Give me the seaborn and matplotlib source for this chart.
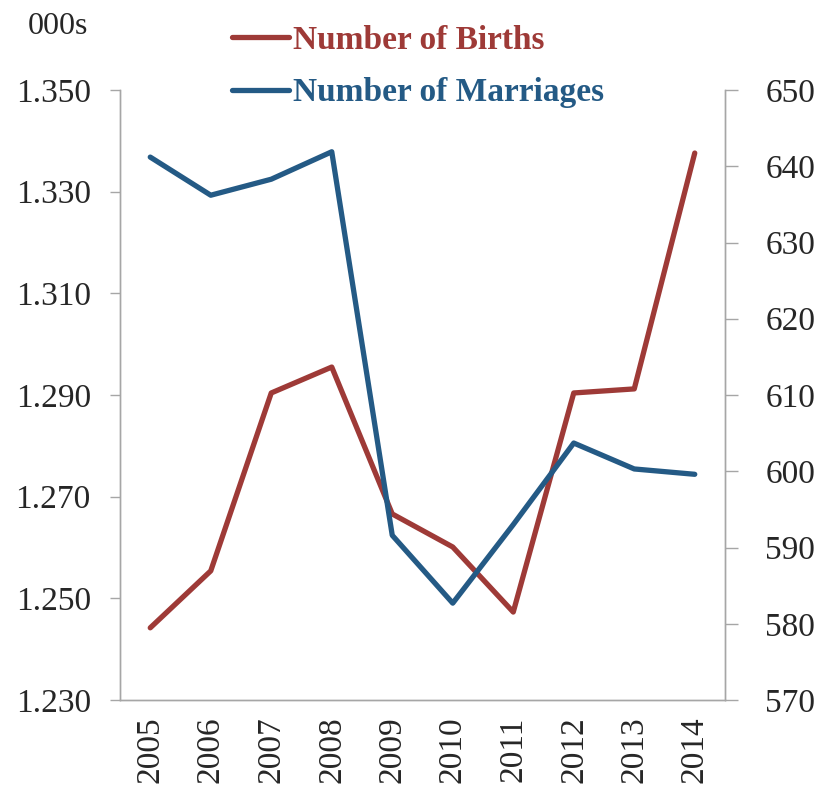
import matplotlib
matplotlib.use("Agg")
import matplotlib.pyplot as plt
import seaborn as sns
import pandas as pd
import numpy as np
from matplotlib.lines import Line2D

# data
years = ["2005", "2006", "2007", "2008", "2009", "2010", "2011", "2012", "2013", "2014"]
births = [1.2442, 1.2554, 1.2904, 1.2955, 1.2666, 1.2601, 1.2473, 1.2904, 1.2912, 1.3376]
marriages = [641.2, 636.2, 638.3, 641.9, 591.6, 582.7, 593.0, 603.7, 600.3, 599.6]

left_ticks = [1.230, 1.250, 1.270, 1.290, 1.310, 1.330, 1.350]
right_ticks = [570, 580, 590, 600, 610, 620, 630, 640, 650]

RED = "#9e3a37"
BLUE = "#245a85"
GREY = "#a6a6a6"

sns.set_style("white")
plt.rcParams["font.family"] = ["Liberation Serif", "DejaVu Serif"]

df = pd.DataFrame({"pos": np.arange(len(years)), "births": births, "marriages": marriages})

W, H = 818, 790
fig = plt.figure(figsize=(W / 100, H / 100), dpi=100)
ax = fig.add_axes([120 / W, 1 - 700 / H, (725 - 120) / W, (700 - 90) / H])
ax2 = ax.twinx()

sns.lineplot(data=df, x="pos", y="births", ax=ax, color=RED, linewidth=3.8)
sns.lineplot(data=df, x="pos", y="marriages", ax=ax2, color=BLUE, linewidth=3.8)

ax.set_xlim(-0.5, len(years) - 0.5)
ax.set_ylim(1.230, 1.350)
ax2.set_ylim(570, 650)

ax.set_yticks(left_ticks)
ax.set_yticklabels([f"{v:.3f}" for v in left_ticks], fontsize=24)
ax2.set_yticks(right_ticks)
ax2.set_yticklabels([str(v) for v in right_ticks], fontsize=24)

# category boundaries as tick marks, labels in the middle
ax.set_xticks(np.arange(-0.5, len(years)), labels=[""] * (len(years) + 1))
ax.set_xticks(np.arange(len(years)), labels=years, minor=True)
ax.tick_params(axis="x", which="minor", length=0, labelsize=24, labelrotation=90, pad=12)
ax.tick_params(axis="x", which="major", length=8, width=1, color=GREY, direction="out")
ax.tick_params(axis="y", length=7, width=1, color=GREY, direction="out", pad=14)
ax2.tick_params(axis="y", length=9, width=1, color=GREY, direction="out", pad=20)

for a in (ax, ax2):
    a.set_xlabel("")
    a.set_ylabel("")
    a.grid(False)
    a.spines["top"].set_visible(False)
    for s in ("left", "right", "bottom"):
        a.spines[s].set_color(GREY)
        a.spines[s].set_linewidth(1)

fig.text(28 / W, 1 - 26 / H, "000s", fontsize=23, va="center", ha="left")

handles = [Line2D([0], [0], color=RED, lw=3.8), Line2D([0], [0], color=BLUE, lw=3.8)]
leg = fig.legend(handles, ["Number of Births", "Number of Marriages"],
                 loc="upper left", bbox_to_anchor=(232 / W, 1 - 25 / H), frameon=False,
                 prop={"size": 24, "weight": "bold"}, handlelength=1.7,
                 handletextpad=0.12, labelspacing=0.64, borderaxespad=0, borderpad=0)
for txt, c in zip(leg.get_texts(), (RED, BLUE)):
    txt.set_color(c)

fig.savefig("out.png", dpi=100)
